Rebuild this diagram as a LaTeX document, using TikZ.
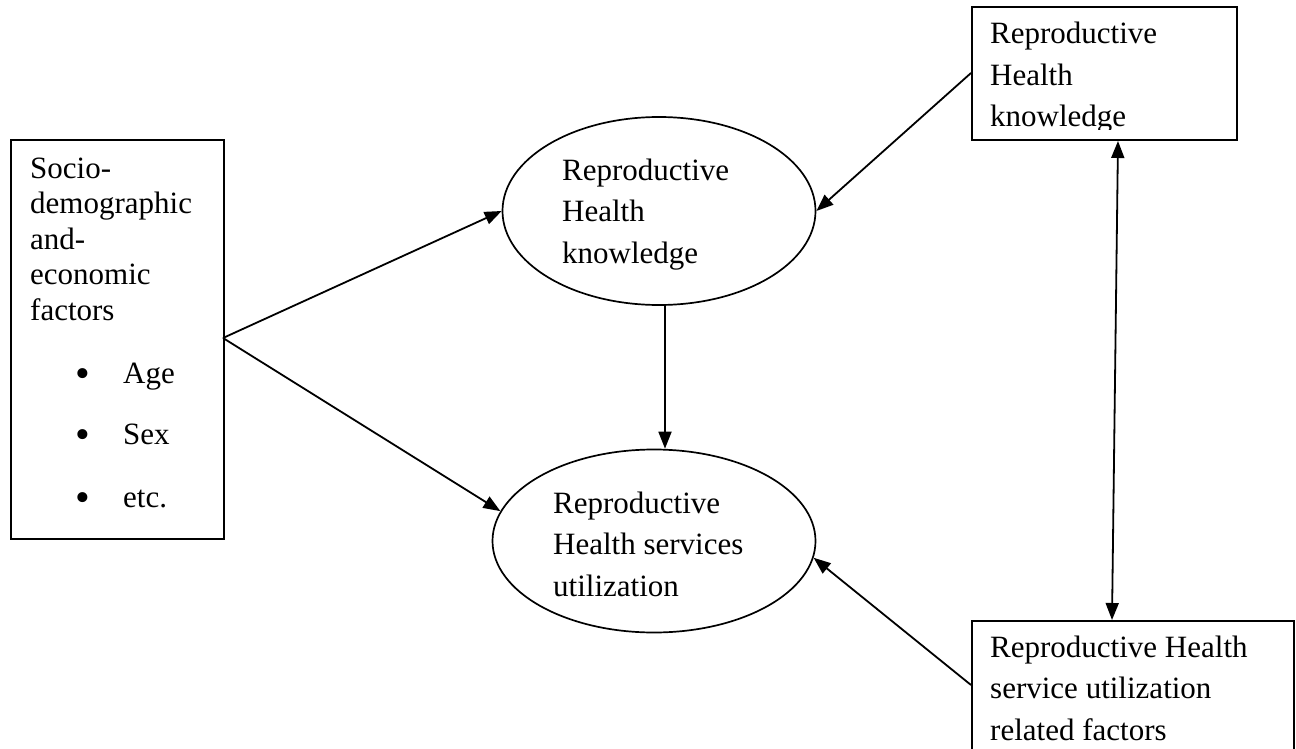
\documentclass[tikz,border=0pt]{standalone}
\usepackage{fontspec}
\setmainfont{Liberation Serif}
\usetikzlibrary{arrows.meta,calc,shapes.geometric}
\tikzset{
  every node/.style={font=\fontsize{31}{41.5}\selectfont},
  boxnode/.style={draw,line width=2pt,rectangle,align=left,inner sep=0pt},
  ovalnode/.style={draw,line width=1.7pt,ellipse,inner sep=0pt},
  txt/.style={anchor=base west,align=left,inner sep=0pt},
  bul/.style={anchor=base west,inner sep=0pt,font=\fontsize{42}{42}\selectfont},
  conn/.style={line width=1.8pt,-{Triangle[length=17pt,width=13pt]}},
  biconn/.style={line width=1.8pt,{Triangle[length=17pt,width=13pt]}-{Triangle[length=17pt,width=13pt]}},
}
\begin{document}
\begin{tikzpicture}[x=1pt,y=-1pt]
\useasboundingbox (0,0) rectangle (1296,749);
% left box
\node[boxnode,minimum width=213pt,minimum height=399pt,anchor=north west] (s) at (10,139) {};
\node[txt,font=\fontsize{31}{35.5}\selectfont] (stext) at (30,320) {Socio-\\demographic\\and-\\economic\\factors};
\node[bul] (b1) at (75,387) {\textbullet};
\node[txt] (age) at (123,383) {Age};
\node[bul] (b2) at (75,448) {\textbullet};
\node[txt] (sex) at (123,444) {Sex};
\node[bul] (b3) at (75,511) {\textbullet};
\node[txt] (etc) at (123,507) {etc.};
\coordinate (fork) at (223,338);
% top ellipse
\node[ovalnode,minimum width=313pt,minimum height=188pt] (k) at (659,211) {};
\node[txt] (ktext) at (562,263) {Reproductive\\Health\\knowledge};
% bottom ellipse
\node[ovalnode,minimum width=323pt,minimum height=183pt] (u) at (654,541) {};
\node[txt] (utext) at (553,596) {Reproductive\\Health services\\utilization};
% top right box
\node[boxnode,minimum width=265pt,minimum height=133pt,anchor=north west] (r) at (971,6) {};
\begin{scope}
\clip (971,0) rectangle (1236,130);
\node[txt] (rtext) at (990,127) {Reproductive\\Health\\knowledge};
\end{scope}
% bottom right box
\node[boxnode,minimum width=322pt,minimum height=140pt,anchor=north west] (f) at (971,620) {};
\node[txt] (ftext) at (990,740) {Reproductive Health\\service utilization\\related factors};
% connectors
\draw[conn] (fork) -- (k.west);
\draw[conn] (fork) -- (u.169);
\draw[conn] (k.south -| 665,0) -- (u.north -| 665,0);
\draw[conn] (r.west |- 0,73) -- (k.east);
\draw[conn] (f.west |- 0,685) -- (u.-6);
\draw[biconn] (r.south -| 1118,0) -- (f.north -| 1112,0);
\end{tikzpicture}
\end{document}
